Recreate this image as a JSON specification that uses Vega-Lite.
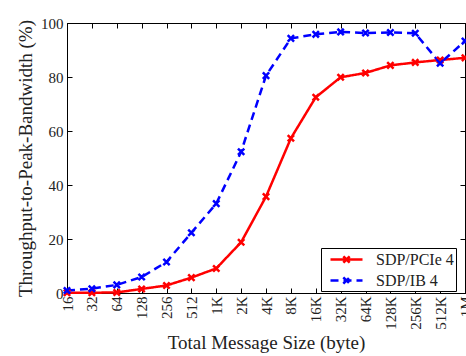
{
  "$schema": "https://vega.github.io/schema/vega-lite/v6.json",
  "width": 398,
  "height": 270,
  "autosize": {"type": "none"},
  "padding": {"left": 67, "top": 23, "right": 1, "bottom": 63},
  "config": {
    "font": "Liberation Serif, serif",
    "view": {"stroke": "black", "strokeWidth": 1},
    "axis": {"grid": false, "domainColor": "black", "tickColor": "black", "labelColor": "#222", "titleColor": "#222", "labelFontSize": 15, "titleFontSize": 19, "titleFontWeight": "normal", "labelFont": "Liberation Serif, serif", "titleFont": "Liberation Serif, serif"}
  },
  "data": {"values": [
    {"size": "16", "series": "SDP/PCIe 4", "value": 0.1},
    {"size": "32", "series": "SDP/PCIe 4", "value": 0.1},
    {"size": "64", "series": "SDP/PCIe 4", "value": 0.2},
    {"size": "128", "series": "SDP/PCIe 4", "value": 1.5},
    {"size": "256", "series": "SDP/PCIe 4", "value": 2.8},
    {"size": "512", "series": "SDP/PCIe 4", "value": 5.7},
    {"size": "1K", "series": "SDP/PCIe 4", "value": 9.1},
    {"size": "2K", "series": "SDP/PCIe 4", "value": 18.8},
    {"size": "4K", "series": "SDP/PCIe 4", "value": 35.7},
    {"size": "8K", "series": "SDP/PCIe 4", "value": 57.3},
    {"size": "16K", "series": "SDP/PCIe 4", "value": 72.5},
    {"size": "32K", "series": "SDP/PCIe 4", "value": 79.9},
    {"size": "64K", "series": "SDP/PCIe 4", "value": 81.5},
    {"size": "128K", "series": "SDP/PCIe 4", "value": 84.3},
    {"size": "256K", "series": "SDP/PCIe 4", "value": 85.4},
    {"size": "512K", "series": "SDP/PCIe 4", "value": 86.3},
    {"size": "1M", "series": "SDP/PCIe 4", "value": 87.1},
    {"size": "16", "series": "SDP/IB 4", "value": 0.9},
    {"size": "32", "series": "SDP/IB 4", "value": 1.6},
    {"size": "64", "series": "SDP/IB 4", "value": 3.0},
    {"size": "128", "series": "SDP/IB 4", "value": 5.9},
    {"size": "256", "series": "SDP/IB 4", "value": 11.5},
    {"size": "512", "series": "SDP/IB 4", "value": 22.3},
    {"size": "1K", "series": "SDP/IB 4", "value": 33.1},
    {"size": "2K", "series": "SDP/IB 4", "value": 52.3},
    {"size": "4K", "series": "SDP/IB 4", "value": 80.5},
    {"size": "8K", "series": "SDP/IB 4", "value": 94.3},
    {"size": "16K", "series": "SDP/IB 4", "value": 95.8},
    {"size": "32K", "series": "SDP/IB 4", "value": 96.7},
    {"size": "64K", "series": "SDP/IB 4", "value": 96.3},
    {"size": "128K", "series": "SDP/IB 4", "value": 96.5},
    {"size": "256K", "series": "SDP/IB 4", "value": 96.2},
    {"size": "512K", "series": "SDP/IB 4", "value": 85.1},
    {"size": "1M", "series": "SDP/IB 4", "value": 93.3}
  ]},
  "resolve": {"axis": {"x": "independent", "y": "independent"}},
  "layer": [
    {
      "mark": {"type": "line", "strokeWidth": 2.5},
      "encoding": {
        "x": {"field": "size", "type": "nominal", "sort": ["16","32","64","128","256","512","1K","2K","4K","8K","16K","32K","64K","128K","256K","512K","1M"], "scale": {"type": "point", "padding": 0},
              "axis": {"orient": "bottom", "labelAngle": -90, "tickSize": -5, "labelPadding": 8, "title": "Total Message Size (byte)", "titlePadding": 4}},
        "y": {"field": "value", "type": "quantitative", "scale": {"domain": [0, 100], "nice": false},
              "axis": {"orient": "left", "values": [0, 20, 40, 60, 80, 100], "tickSize": -5, "labelPadding": 9, "title": "Throughput-to-Peak-Bandwidth (%)", "titlePadding": 5}},
        "color": {"field": "series", "type": "nominal", "scale": {"domain": ["SDP/PCIe 4", "SDP/IB 4"], "range": ["#ff0000", "#0000ff"]},
                  "legend": {"title": null, "orient": "none", "legendX": 254, "legendY": 225, "strokeColor": "black", "fillColor": "white", "padding": 2, "cornerRadius": 0, "labelFontSize": 16, "labelFont": "Liberation Serif, serif", "labelColor": "#222", "symbolType": "M-2,0H2M-0.4,-0.4L0.4,0.4M-0.4,0.4L0.4,-0.4", "symbolSize": 256, "symbolStrokeWidth": 2.5, "symbolOffset": 14, "rowPadding": 3, "labelOffset": 20}},
        "strokeDash": {"field": "series", "type": "nominal", "scale": {"domain": ["SDP/PCIe 4", "SDP/IB 4"], "range": [[1, 0], [8, 5]]}, "legend": null}
      }
    },
    {
      "mark": {"type": "point", "shape": "M-1,-1L1,1M-1,1L1,-1", "filled": false, "strokeWidth": 2.5, "size": 40, "opacity": 1},
      "encoding": {
        "x": {"field": "size", "type": "nominal", "sort": ["16","32","64","128","256","512","1K","2K","4K","8K","16K","32K","64K","128K","256K","512K","1M"], "scale": {"type": "point", "padding": 0},
              "axis": {"orient": "top", "labels": false, "tickSize": -5, "title": null}},
        "y": {"field": "value", "type": "quantitative", "scale": {"domain": [0, 100], "nice": false},
              "axis": {"orient": "right", "labels": false, "values": [0, 20, 40, 60, 80, 100], "tickSize": -5, "title": null}},
        "color": {"field": "series", "type": "nominal", "legend": null}
      }
    }
  ]
}
